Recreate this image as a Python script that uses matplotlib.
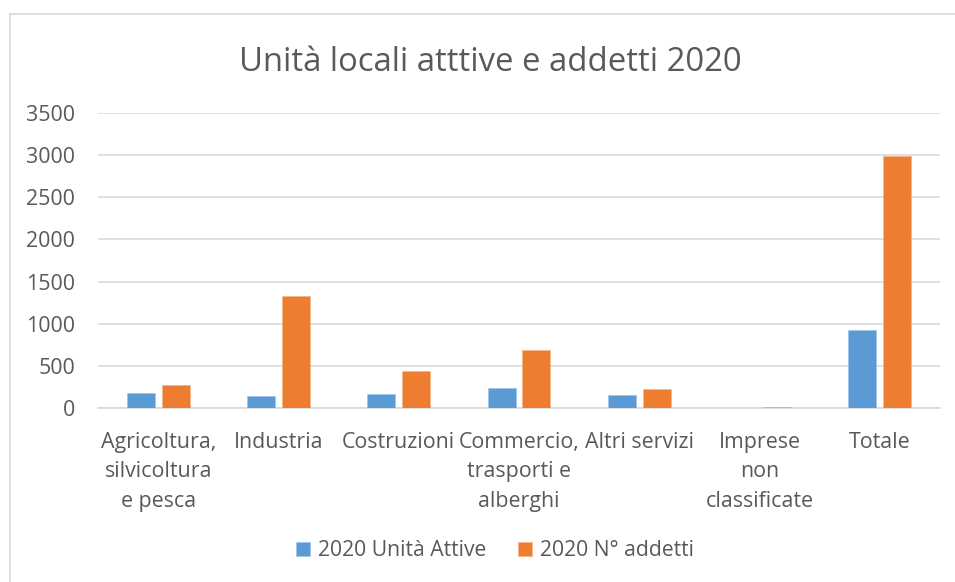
import matplotlib
matplotlib.use("Agg")
import matplotlib.pyplot as plt
from matplotlib.lines import Line2D
import numpy as np

categories = ["Agricoltura,\nsilvicoltura\ne pesca", "Industria", "Costruzioni",
              "Commercio,\ntrasporti e\nalberghi", "Altri servizi",
              "Imprese\nnon\nclassificate", "Totale"]
unita_attive = [174, 146, 170, 237, 150, 1, 925]
addetti = [269, 1332, 435, 684, 221, 12, 2992]
series_names = ["2020 Unità Attive", "2020 N° addetti"]
yticks = [0, 500, 1000, 1500, 2000, 2500, 3000, 3500]
title = "Unità locali atttive e addetti 2020"

plt.rcParams['font.family'] = ['Open Sans', 'DejaVu Sans']
TXT = "#595959"
GRID = "#D9D9D9"
BLUE = "#5B9BD5"
ORANGE = "#ED7D31"

W, H = 955, 582
fig = plt.figure(figsize=(W / 100, H / 100), dpi=100)
fig.patch.set_facecolor("white")

# chart border (left and top visible)
fig.add_artist(Line2D([10 / W, 10 / W], [0, 1 - 14 / H], color=GRID, lw=1.2))
fig.add_artist(Line2D([10 / W, 1], [1 - 14 / H, 1 - 14 / H], color=GRID, lw=1.2))

ax = fig.add_axes([98 / W, (H - 408) / H, (940 - 98) / W, (408 - 113) / H])
x = np.arange(len(categories))
bw = 0.233
off = 0.145
ax.bar(x - off, unita_attive, bw, color=BLUE, edgecolor="#9CC3E6", linewidth=0.4, label=series_names[0], zorder=3)
ax.bar(x + off, addetti, bw, color=ORANGE, edgecolor="#F4B183", linewidth=0.4, label=series_names[1], zorder=3)

ax.set_xlim(-0.5, len(categories) - 0.5)
ax.set_ylim(0, 3500)
ax.set_yticks(yticks)
ax.set_yticklabels([str(v) for v in yticks])
ax.yaxis.grid(True, color=GRID, lw=1.2, zorder=0)
ax.set_axisbelow(True)
for s in ["top", "right", "left"]:
    ax.spines[s].set_visible(False)
ax.spines["bottom"].set_color(GRID)
ax.spines["bottom"].set_linewidth(1.2)
ax.tick_params(axis="both", length=0, colors=TXT, labelsize=15.4)
ax.tick_params(axis="y", pad=16.5)
ax.tick_params(axis="x", pad=17)
ax.set_xticks(x)
ax.set_xticklabels(categories, linespacing=1.53)

fig.text(490 / W, 1 - 71 / H, title, ha="center", va="baseline", fontsize=23.7, color=TXT)

leg = fig.legend(loc="center", bbox_to_anchor=(495 / W, 1 - 551 / H), ncol=2, frameon=False,
                 fontsize=15.2, labelcolor=TXT, handlelength=0.65, handleheight=0.65,
                 handletextpad=0.35, columnspacing=1.55)

fig.savefig("out.png", dpi=100, facecolor="white")
